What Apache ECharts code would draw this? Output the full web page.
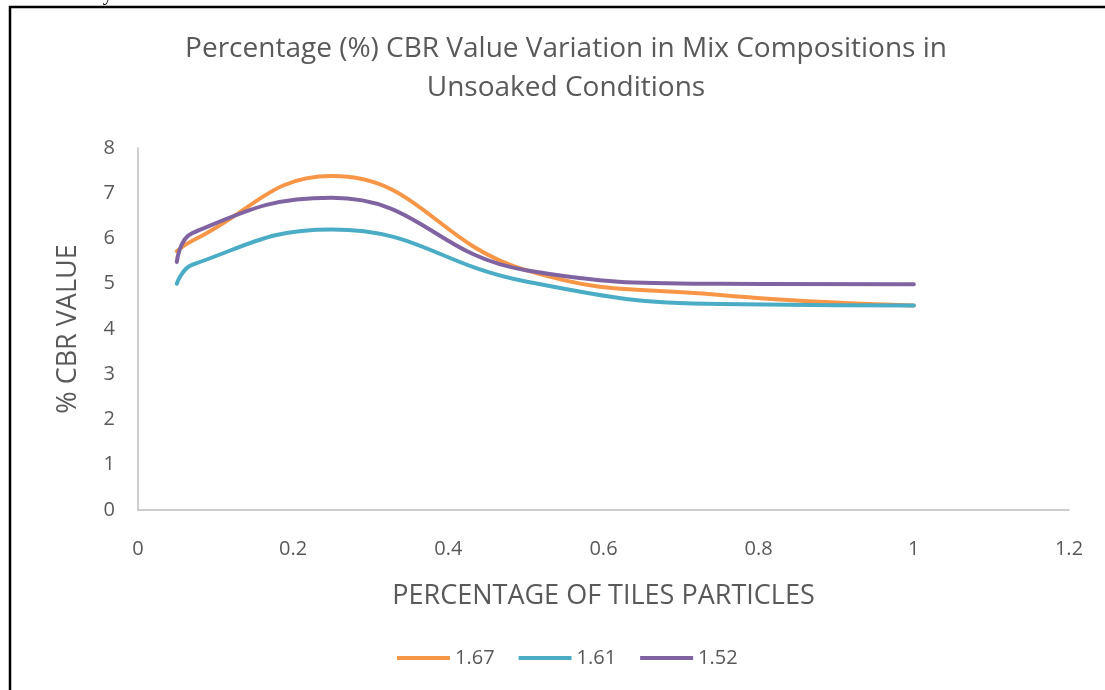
<!DOCTYPE html>
<html>
<head>
<meta charset="utf-8">
<script src="https://cdn.jsdelivr.net/npm/echarts@6/dist/echarts.min.js"></script>
<style>
  html, body { margin: 0; padding: 0; background: #fff; }
  #chart { width: 1105px; height: 690px; }
</style>
</head>
<body>
<div id="chart"></div>
<script>
// tiles particle fraction
const tiles = [0.05, 0.07, 0.25, 0.5, 0.75, 1];
const cbr167 = [5.72, 5.95, 7.38, 5.3, 4.75, 4.52];
const cbr161 = [5.0, 5.42, 6.2, 5.05, 4.55, 4.52];
const cbr152 = [5.48, 6.12, 6.9, 5.3, 5.0, 4.99];
const seriesNames = ['1.67', '1.61', '1.52'];
const colors = ['#F79646', '#4BACC6', '#8064A2'];

const pairs = (ys) => tiles.map((x, i) => [x, ys[i]]);

const chart = echarts.init(document.getElementById('chart'));
const font = '"Open Sans", "Liberation Sans", sans-serif';

chart.setOption({
  animation: false,
  textStyle: { fontFamily: font },
  color: colors,
  title: {
    text: 'Percentage (%) CBR Value Variation in Mix Compositions in\nUnsoaked Conditions',
    left: 561, top: 25, textAlign: 'center',
    textStyle: { fontFamily: font, fontSize: 28, fontWeight: 'normal', color: '#595959', lineHeight: 39 }
  },
  graphic: [
    { type: 'text', left: -4, top: -15,
      style: { text: 'able with Clay Soil is shown below.', font: '20px "Liberation Serif", serif', fill: '#000' } },
    { type: 'rect', shape: { x: 10, y: 7, width: 1200, height: 800 },
      style: { fill: 'none', stroke: '#000', lineWidth: 2.5 } }
  ],
  legend: {
    bottom: 17, left: 392,
    icon: 'rect', itemWidth: 53, itemHeight: 4, itemGap: 24,
    textStyle: { fontFamily: font, fontSize: 20, color: '#595959' },
    data: seriesNames
  },
  grid: { left: 138, right: 36, top: 148, bottom: 180 },
  xAxis: {
    type: 'value', min: 0, max: 1.2, interval: 0.2,
    name: 'PERCENTAGE OF TILES PARTICLES', nameLocation: 'middle', nameGap: 73,
    nameTextStyle: { fontFamily: font, fontSize: 27, color: '#595959' },
    axisLine: { lineStyle: { color: '#BFBFBF', width: 1.5 } },
    axisTick: { show: false },
    splitLine: { show: false },
    axisLabel: { fontSize: 20, color: '#595959', margin: 29,
      formatter: (v) => String(Math.round(v * 10) / 10) }
  },
  yAxis: {
    type: 'value', min: 0, max: 8, interval: 1,
    name: '% CBR VALUE', nameLocation: 'middle', nameGap: 56, nameRotate: 90,
    nameTextStyle: { fontFamily: font, fontSize: 27, color: '#595959' },
    axisLine: { show: true, lineStyle: { color: '#BFBFBF', width: 1.5 } },
    axisTick: { show: false },
    splitLine: { show: false },
    axisLabel: { fontSize: 20, color: '#595959', margin: 23 }
  },
  series: [cbr167, cbr161, cbr152].map((ys, i) => ({
    name: seriesNames[i],
    type: 'line',
    smooth: 0.45,
    symbol: 'none',
    lineStyle: { width: 4, color: colors[i], cap: 'round' },
    data: pairs(ys)
  }))
});
</script>
</body>
</html>
